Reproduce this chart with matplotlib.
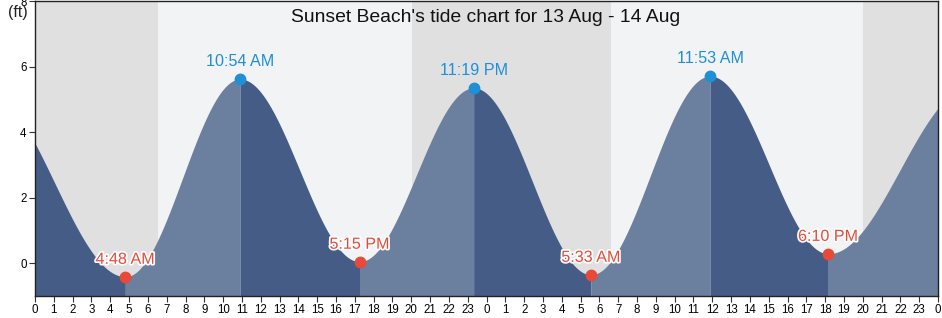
import numpy as np
import matplotlib
matplotlib.use("Agg")
import matplotlib.pyplot as plt
import matplotlib.patheffects as pe

plt.rcParams['font.family'] = ['Liberation Sans', 'DejaVu Sans']

# Tide extremes (hours from 13 Aug 00:00, height ft); first/last are outside the visible window
ext_hours = [-2.7, 4.8, 10.9, 17.25, 23.317, 29.55, 35.883, 42.167, 49.8]
ext_heights = [5.3, -0.41, 5.62, 0.05, 5.35, -0.35, 5.71, 0.29, 5.4]
ext_labels = [None, "4:48 AM", "10:54 AM", "5:15 PM", "11:19 PM", "5:33 AM", "11:53 AM", "6:10 PM", None]

# Daylight (sunrise, sunset) in hours
sunrise = [6.55, 30.62]
sunset = [20.05, 44.02]

x_ticks = list(range(0, 49))
x_tick_labels = [str(h % 24) for h in x_ticks]
y_ticks = [0, 2, 4, 6, 8]

DARK = "#455c86"
LIGHT = "#6b7f9f"
NIGHT = "#e0e0e0"
DAY = "#f2f3f5"
RED = "#e8493a"
BLUE = "#1f8fd6"

fig = plt.figure(figsize=(9.42, 3.18), dpi=100)
ax = fig.add_axes([35/942, 22/318, 903/942, 295/318])
ax.set_xlim(0, 48)
ax.set_ylim(-1, 8)

# backgrounds
ax.axvspan(0, 48, color=NIGHT, zorder=0, lw=0)
for sr, ss in zip(sunrise, sunset):
    ax.axvspan(sr, ss, color=DAY, zorder=0.5, lw=0)

# tide curve: cosine between consecutive extremes
for i in range(len(ext_hours) - 1):
    t0, t1 = ext_hours[i], ext_hours[i + 1]
    h0, h1 = ext_heights[i], ext_heights[i + 1]
    t = np.linspace(t0, t1, 200)
    f = (t - t0) / (t1 - t0)
    h = h0 + (h1 - h0) * (1 - np.cos(np.pi * f)) / 2
    color = LIGHT if h1 > h0 else DARK
    ax.fill_between(t, -1, h, color=color, lw=0, zorder=1)

for t, h, lab in zip(ext_hours, ext_heights, ext_labels):
    if lab is None:
        continue
    high = h > 2
    c = BLUE if high else RED
    ax.plot([t], [h], 'o', color=c, ms=7.5, zorder=3, clip_on=False)
    txt = ax.annotate(lab, (t, h), xytext=(0, 12.5), textcoords='offset points',
                      ha='center', va='center', color=c, fontsize=11.6, zorder=4)
    if not high:
        txt.set_path_effects([pe.withStroke(linewidth=2.5, foreground='white')])

ax.set_xticks(x_ticks)
ax.set_xticklabels(x_tick_labels, fontsize=8.3)
ax.set_yticks(y_ticks)
ax.set_yticklabels([str(v) for v in y_ticks], fontsize=8.3)
ax.tick_params(axis='both', length=4, width=0.8, color='#333333', pad=2)
for s in ax.spines.values():
    s.set_color('#222222')
    s.set_linewidth(1)

fig.text(486/942, 1 - 18/318, "Sunset Beach's tide chart for 13 Aug - 14 Aug",
         ha='center', va='center', fontsize=13.9, color='#111111')
fig.text(18/942, 1 - 12/318, "(ft)", ha='center', va='center', fontsize=11.5, color='#222222')

fig.savefig("out.png", dpi=100)
